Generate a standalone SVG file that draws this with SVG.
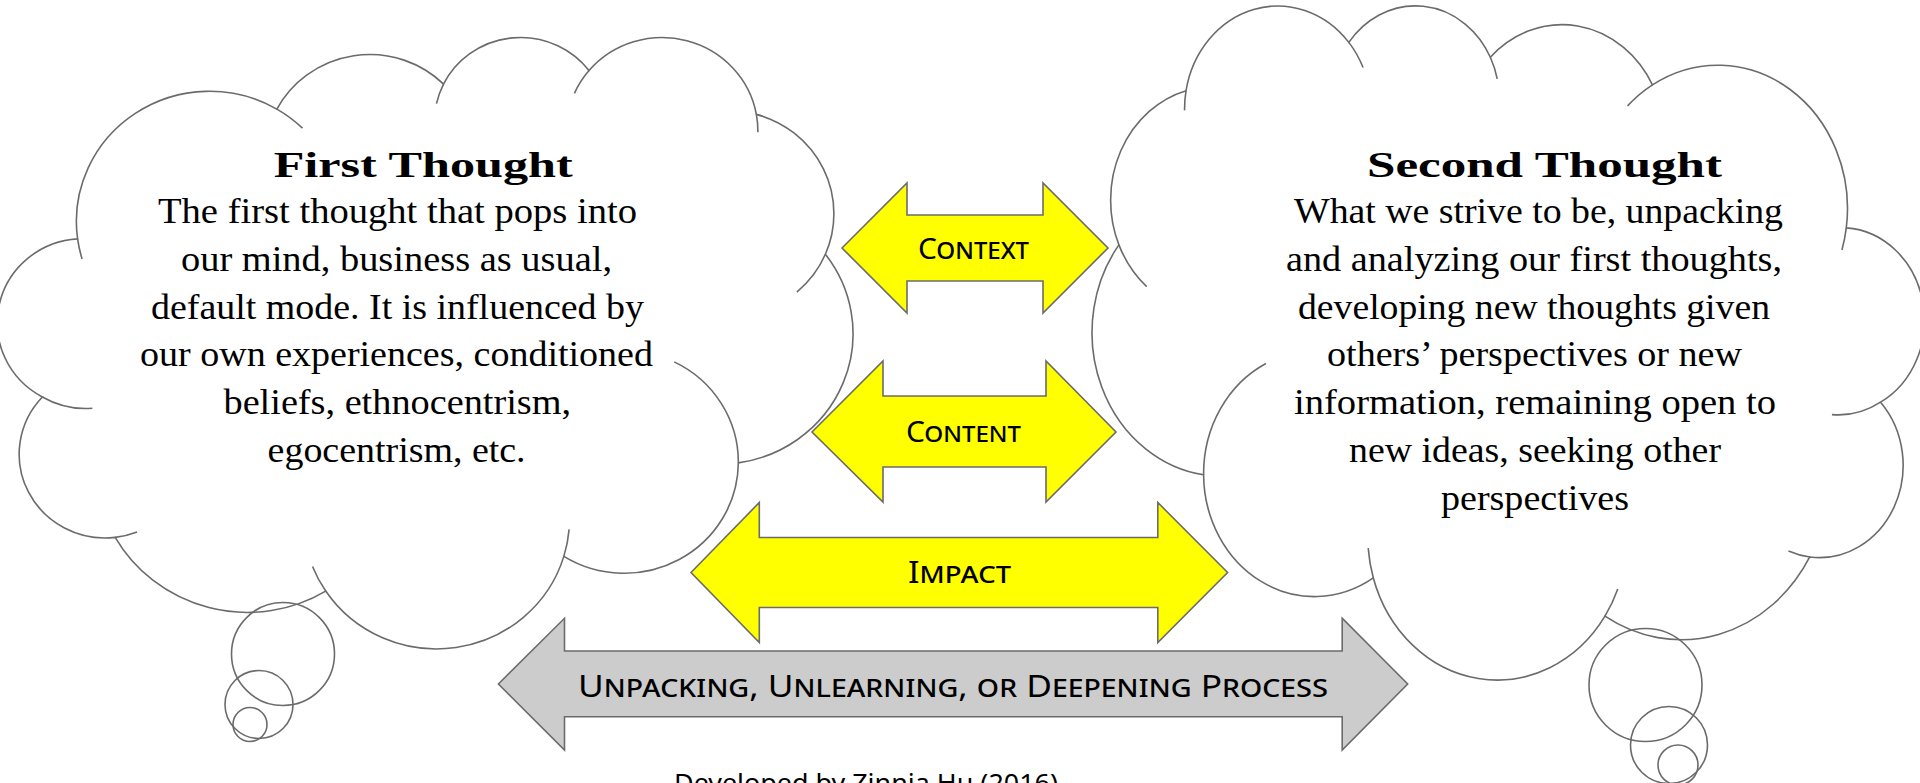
<svg xmlns="http://www.w3.org/2000/svg" width="1920" height="783" viewBox="0 0 1920 783">
<style>
.cloud{fill:#fff;stroke:#6b6b6b;stroke-width:1.6}
.inner{fill:none;stroke:#6b6b6b;stroke-width:1.6}
.bub{fill:none;stroke:#6b6b6b;stroke-width:1.6}
.ya{fill:#ffff00;stroke:#6b6b6b;stroke-width:1.6;stroke-linejoin:miter}
.ga{fill:#cccccc;stroke:#6b6b6b;stroke-width:1.6}
.ttl{font-family:"Liberation Serif","Times New Roman",serif;font-weight:bold;font-size:36px;fill:#000}
.body{font-family:"Liberation Serif","Times New Roman",serif;font-size:35px;fill:#000}
.lab{font-family:"Noto Sans","DejaVu Sans",sans-serif;font-variant:small-caps;fill:#000}
</style>
<rect width="1920" height="783" fill="#fff"/>

<g id="first-thought">
<path class="cloud" vector-effect="non-scaling-stroke" transform="matrix(0.01972 0 0 0.01415 0.7 35.5)" d="M3900 14370 A6753 9190 0 0 1 14004.8 5202 A5333 7267 0 0 1 22455.8 3431.9 A4365 5945 0 0 1 29833.9 2479.5 A4857 6595 0 0 1 38319.4 5574.2 A5333 7273 0 0 1 41819.8 15458.3 A6775 9220 0 0 1 37405.3 30200.9 A5785 7867 0 0 1 28557 36811.2 A6752 9215 0 0 1 16481.6 39263 A7720 10543 0 0 1 5805.1 35466.4 A4360 5918 0 0 1 2114.4 25543.7 A4345 5945 0 0 1 3900 14370 Z"/>
<path class="inner" vector-effect="non-scaling-stroke" transform="matrix(0.01972 0 0 0.01415 0.7 35.5)" d="M4647.9 26340.9 A4345 5945 0 0 1 2114.4 25543.7 M6914 35084.7 A4360 5918 0 0 1 5805.1 35466.4 M16481.6 39263 A6752 9215 0 0 1 15813.2 37521.4 M28823.6 34902.2 A6752 9215 0 0 1 28557 36811.2 M34154 23065.4 A5785 7867 0 0 1 37405.3 30200.9 M41819.8 15458.3 A5333 7273 0 0 1 40371.7 18134.2 M38319.4 5574.2 A4857 6595 0 0 1 38395.8 6837.9 M29092.6 4090.6 A4857 6595 0 0 1 29833.9 2479.5 M22097.3 4819.5 A4365 5945 0 0 1 22456.3 3430.1 M14004.8 5202 A6753 9190 0 0 1 15304.5 6550.1 M4126.9 15788.8 A6753 9190 0 0 1 3900 14370"/>
<circle class="bub" cx="283" cy="654" r="51.5"/>
<circle class="bub" cx="259" cy="704.5" r="34"/>
<circle class="bub" cx="250" cy="724.5" r="17"/>
<text class="ttl" x="273.7" y="177.3" textLength="299" lengthAdjust="spacingAndGlyphs">First Thought</text>
<text class="body" x="158" y="223" textLength="479" lengthAdjust="spacingAndGlyphs">The first thought that pops into</text>
<text class="body" x="181" y="270.8" textLength="431" lengthAdjust="spacingAndGlyphs">our mind, business as usual,</text>
<text class="body" x="151" y="318.6" textLength="493" lengthAdjust="spacingAndGlyphs">default mode. It is influenced by</text>
<text class="body" x="140" y="366.4" textLength="513" lengthAdjust="spacingAndGlyphs">our own experiences, conditioned</text>
<text class="body" x="223.5" y="414.2" textLength="347.5" lengthAdjust="spacingAndGlyphs">beliefs, ethnocentrism,</text>
<text class="body" x="267.6" y="462" textLength="258" lengthAdjust="spacingAndGlyphs">egocentrism, etc.</text>
</g>

<g id="second-thought">
<path class="cloud" vector-effect="non-scaling-stroke" transform="matrix(-0.019182 0 0 0.0156 1921.1 3.7)" d="M3900 14370 A6753 9190 0 0 1 14004.8 5202 A5333 7267 0 0 1 22455.8 3431.9 A4365 5945 0 0 1 29833.9 2479.5 A4857 6595 0 0 1 38319.4 5574.2 A5333 7273 0 0 1 41819.8 15458.3 A6775 9220 0 0 1 37405.3 30200.9 A5785 7867 0 0 1 28557 36811.2 A6752 9215 0 0 1 16481.6 39263 A7720 10543 0 0 1 5805.1 35466.4 A4360 5918 0 0 1 2114.4 25543.7 A4345 5945 0 0 1 3900 14370 Z"/>
<path class="inner" vector-effect="non-scaling-stroke" transform="matrix(-0.019182 0 0 0.0156 1921.1 3.7)" d="M4647.9 26340.9 A4345 5945 0 0 1 2114.4 25543.7 M6914 35084.7 A4360 5918 0 0 1 5805.1 35466.4 M16481.6 39263 A6752 9215 0 0 1 15813.2 37521.4 M28823.6 34902.2 A6752 9215 0 0 1 28557 36811.2 M34154 23065.4 A5785 7867 0 0 1 37405.3 30200.9 M41819.8 15458.3 A5333 7273 0 0 1 40371.7 18134.2 M38319.4 5574.2 A4857 6595 0 0 1 38395.8 6837.9 M29092.6 4090.6 A4857 6595 0 0 1 29833.9 2479.5 M22097.3 4819.5 A4365 5945 0 0 1 22456.3 3430.1 M14004.8 5202 A6753 9190 0 0 1 15304.5 6550.1 M4126.9 15788.8 A6753 9190 0 0 1 3900 14370"/>
<circle class="bub" cx="1645.5" cy="685" r="56.5"/>
<circle class="bub" cx="1669" cy="745" r="38.5"/>
<circle class="bub" cx="1678" cy="765" r="20"/>
<text class="ttl" x="1367" y="177" textLength="355" lengthAdjust="spacingAndGlyphs">Second Thought</text>
<text class="body" x="1294" y="223" textLength="489" lengthAdjust="spacingAndGlyphs">What we strive to be, unpacking</text>
<text class="body" x="1286" y="270.8" textLength="496" lengthAdjust="spacingAndGlyphs">and analyzing our first thoughts,</text>
<text class="body" x="1298" y="318.6" textLength="472" lengthAdjust="spacingAndGlyphs">developing new thoughts given</text>
<text class="body" x="1327" y="366.4" textLength="415" lengthAdjust="spacingAndGlyphs">others’ perspectives or new</text>
<text class="body" x="1294" y="414.2" textLength="482" lengthAdjust="spacingAndGlyphs">information, remaining open to</text>
<text class="body" x="1349" y="462" textLength="372" lengthAdjust="spacingAndGlyphs">new ideas, seeking other</text>
<text class="body" x="1441" y="509.8" textLength="188" lengthAdjust="spacingAndGlyphs">perspectives</text>
</g>

<g id="connectors">
<g id="context-arrow">
<polygon class="ya" points="842,248 907,183 907,215 1043,215 1043,183 1108,248 1043,313 1043,281 907,281 907,313"/>
<text class="lab" x="918" y="258.5" font-size="29" textLength="111" lengthAdjust="spacingAndGlyphs">Context</text>
</g>
<g id="content-arrow">
<polygon class="ya" points="812,432 883,361 883,396 1046,396 1046,361 1116,432 1046,502 1046,467 883,467 883,502"/>
<text class="lab" x="906" y="441.5" font-size="28.5" textLength="115" lengthAdjust="spacingAndGlyphs">Content</text>
</g>
<g id="impact-arrow">
<polygon class="ya" points="691,572.5 759.3,502.5 759.3,537.5 1157.8,537.5 1157.8,502.5 1227.6,572.5 1157.8,642.5 1157.8,607.5 759.3,607.5 759.3,642.5"/>
<text class="lab" x="908" y="583.3" font-size="30" textLength="103" lengthAdjust="spacingAndGlyphs">Impact</text>
</g>
<g id="process-arrow">
<polygon class="ga" points="498.4,684 564.5,618.3 564.5,651 1342.2,651 1342.2,618.3 1407.7,684 1342.2,750 1342.2,716.7 564.5,716.7 564.5,750"/>
<text class="lab" x="578" y="696.5" font-size="31.5" textLength="750" lengthAdjust="spacingAndGlyphs">Unpacking, Unlearning, or Deepening Process</text>
</g>
</g>

<g id="credit">
<text x="674" y="792" font-family="'Noto Sans','DejaVu Sans',sans-serif" font-size="26" fill="#000" textLength="384" lengthAdjust="spacingAndGlyphs">Developed by Zinnia Hu (2016)</text>
</g>
</svg>
